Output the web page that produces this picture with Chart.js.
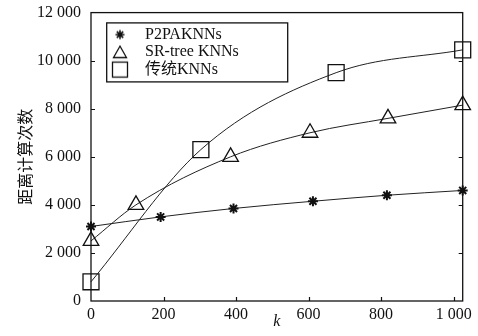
<!DOCTYPE html>
<html><head><meta charset="utf-8">
<script src="https://cdn.jsdelivr.net/npm/chart.js@4.4.1/dist/chart.umd.min.js"></script>
<style>html,body{margin:0;padding:0;background:#fff;}</style>
</head><body>
<canvas id="c" width="478" height="336" style="display:block;width:478px;height:336px"></canvas>
<script>
// ---- data ----
const seriesNames = ['P2PAKNNs', 'SR-tree KNNs', '传统KNNs'];
const p2pK = [0, 192, 393, 612, 816, 1025];
const p2pCount = [3100, 3500, 3850, 4150, 4400, 4600];
const srK = [0, 124, 385, 604, 819, 1025];
const srCount = [2500, 4000, 6000, 7000, 7600, 8150];
const tradK = [0, 303, 676, 1025];
const tradCount = [800, 6300, 9500, 10450];
const xTickValues = [0, 200, 400, 600, 800, 1000];
const xTickLabels = ['0', '200', '400', '600', '800', '1 000'];
const yTickValues = [0, 2000, 4000, 6000, 8000, 10000, 12000];
const yTickLabels = ['0', '2 000', '4 000', '6 000', '8 000', '10 000', '12 000'];
const xTitle = 'k';
const yTitle = '距离计算次数';

const INK = '#111';
const serif = "'Liberation Serif', 'Times New Roman', 'Noto Sans CJK SC', serif";

function toPoints(xs, ys) { return xs.map((x, i) => ({x: x, y: ys[i]})); }

function markerCanvas(kind) {
  const c = document.createElement('canvas');
  c.width = 20; c.height = 20;
  const g = c.getContext('2d');
  g.strokeStyle = INK; g.fillStyle = INK; g.lineWidth = 1.3;
  if (kind === 'rect') {
    g.strokeRect(2.5, 2.5, 15, 15);
  } else if (kind === 'triangle') {
    g.beginPath(); g.moveTo(10, 4); g.lineTo(16.5, 15.5); g.lineTo(3.5, 15.5); g.closePath(); g.stroke();
  } else {
    g.lineWidth = 1.6;
    g.beginPath();
    for (let a = 0; a < 4; a++) {
      const r = a * Math.PI / 4;
      g.moveTo(10 - 4.5 * Math.cos(r), 10 - 4.5 * Math.sin(r));
      g.lineTo(10 + 4.5 * Math.cos(r), 10 + 4.5 * Math.sin(r));
    }
    g.stroke();
    g.beginPath(); g.arc(10, 10, 2, 0, Math.PI * 2); g.fill();
  }
  return c;
}
const legendMarks = [markerCanvas('star'), markerCanvas('triangle'), markerCanvas('rect')];

const framePlugin = {
  id: 'frame',
  afterLayout(chart) {
    const L = chart.legend, a = chart.chartArea;
    if (L) {
      const w = L.width, h = L.height;
      L.left = a.left + 10.5; L.top = a.top + 12.5;
      L.right = L.left + w; L.bottom = L.top + h;
    }
  },
  afterDraw(chart) {
    const {ctx, chartArea: a, scales} = chart;
    ctx.save();
    ctx.strokeStyle = INK; ctx.lineWidth = 1.3;
    ctx.strokeRect(a.left, a.top, a.right - a.left, a.bottom - a.top);
    ctx.lineWidth = 1.2;
    ctx.beginPath();
    xTickValues.forEach(v => {
      if (v === 0) return;
      const px = Math.round(scales.x.getPixelForValue(v)) + 0.5;
      ctx.moveTo(px, a.bottom); ctx.lineTo(px, a.bottom - 4);
    });
    yTickValues.forEach(v => {
      if (v === 0 || v === 12000) return;
      const py = Math.round(scales.y.getPixelForValue(v)) + 0.5;
      ctx.moveTo(a.left, py); ctx.lineTo(a.left + 4, py);
      ctx.moveTo(a.right, py); ctx.lineTo(a.right - 4, py);
    });
    ctx.stroke();
    const L = chart.legend;
    if (L) {
      ctx.lineWidth = 1.3;
      ctx.strokeRect(L.left + 5.2, L.top - 2.2, 181, 59);
    }
    ctx.restore();
  }
};

const common = {borderColor: '#222', borderWidth: 1, cubicInterpolationMode: 'monotone',
  pointBackgroundColor: 'rgba(0,0,0,0)', pointBorderColor: INK, clip: false, fill: false};

function noPad(s) { s.paddingTop = 0; s.paddingBottom = 0; s.paddingLeft = 0; s.paddingRight = 0; }

new Chart(document.getElementById('c'), {
  type: 'line',
  data: {
    datasets: [
      Object.assign({}, common, {label: seriesNames[0], data: toPoints(p2pK, p2pCount),
        pointStyle: 'star', pointRadius: 5, pointBorderWidth: 2}),
      Object.assign({}, common, {label: seriesNames[1], data: toPoints(srK, srCount),
        pointStyle: 'triangle', pointRadius: 9, pointBorderWidth: 1.3}),
      Object.assign({}, common, {label: seriesNames[2], data: toPoints(tradK, tradCount),
        pointStyle: 'rect', pointRadius: 11.3, pointBorderWidth: 1.3})
    ]
  },
  options: {
    responsive: false,
    devicePixelRatio: 1,
    animation: false,
    layout: {padding: {left: 0, right: 15.3, top: 8, bottom: 0}},
    plugins: {
      tooltip: {enabled: false},
      legend: {
        position: 'chartArea',
        align: 'start',
        labels: {
          usePointStyle: true,
          pointStyleWidth: 34,
          padding: 1.5,
          color: INK,
          font: {family: serif, size: 16},
          generateLabels: (chart) => chart.data.datasets.map((ds, i) => ({
            text: ds.label, pointStyle: legendMarks[i], rotation: 0,
            fillStyle: 'rgba(0,0,0,0)', strokeStyle: 'rgba(0,0,0,0)', lineWidth: 0,
            hidden: false, datasetIndex: i, fontColor: INK
          }))
        }
      }
    },
    scales: {
      x: {
        type: 'linear', min: 0, max: 1025,
        afterBuildTicks: (s) => { s.ticks = xTickValues.map(v => ({value: v})); },
        afterFit: (s) => { s.height = 35; noPad(s); },
        grid: {display: false, drawTicks: false},
        border: {display: false},
        ticks: {
          autoSkip: false, padding: 3.7, maxRotation: 0,
          color: INK, font: {family: serif, size: 16},
          callback: (v) => { const i = xTickValues.indexOf(v); return i >= 0 ? xTickLabels[i] : ''; }
        },
        title: {display: true, text: xTitle, color: INK,
          font: {family: serif, size: 16, style: 'italic'}, padding: {top: 0, bottom: 4.4}}
      },
      y: {
        min: 0, max: 12000,
        afterBuildTicks: (s) => { s.ticks = yTickValues.map(v => ({value: v})); },
        afterFit: (s) => { s.width = 91; noPad(s); },
        grid: {display: false, drawTicks: false},
        border: {display: false},
        ticks: {
          autoSkip: false, padding: 10,
          color: INK, font: {family: serif, size: 16, lineHeight: 0.5},
          callback: (v) => { const i = yTickValues.indexOf(v); return i >= 0 ? yTickLabels[i] : ''; }
        },
        title: {display: true, text: yTitle, color: INK,
          font: {family: "'Noto Sans CJK SC', sans-serif", size: 16}, padding: {top: 15, bottom: 0}}
      }
    }
  },
  plugins: [framePlugin]
});
</script>
</body></html>
